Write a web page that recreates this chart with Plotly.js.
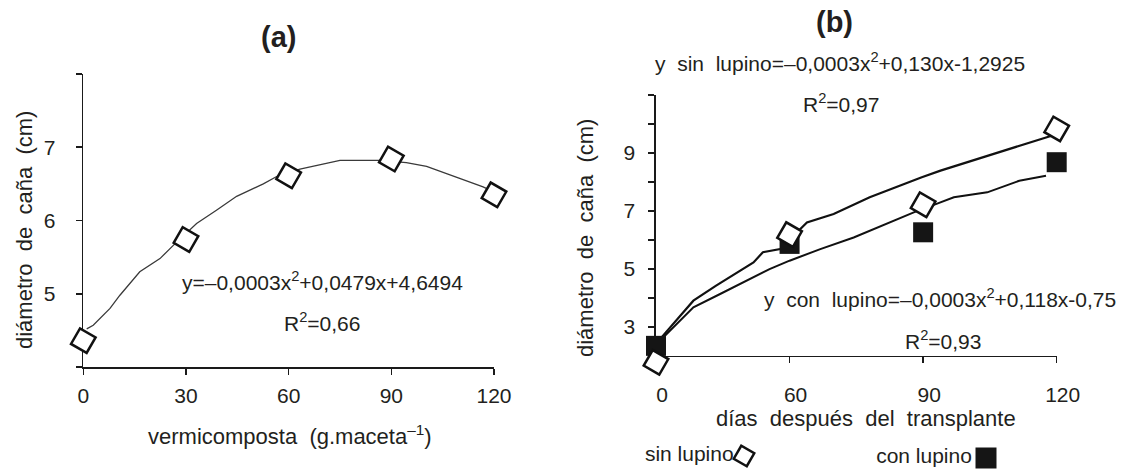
<!DOCTYPE html>
<html>
<head>
<meta charset="utf-8">
<script src="https://cdn.plot.ly/plotly-3.0.1.min.js"></script>
<style>html,body{margin:0;padding:0;background:#fff;}#chart{width:1135px;height:470px;}</style>
</head>
<body>
<div id="chart"></div>
<script>
// ---------- DATA ----------
// Panel (a): vermicomposta (g/maceta) vs diámetro de caña (cm)
const aDoses = [0, 30, 60, 90, 120];
const aDiam = [4.36, 5.74, 6.61, 6.84, 6.35];
// fitted curve as drawn in panel (a)
const aFitX = [1, 2.9, 7.8, 10.7, 16.5, 22.4, 26.3, 33.1, 38.9, 44.8, 52.6, 56.5, 63.3, 68.1, 75, 86.6, 94.4, 100.3, 110, 116.8, 119.5];
const aFitY = [4.52, 4.57, 4.80, 4.98, 5.30, 5.48, 5.66, 5.96, 6.14, 6.33, 6.50, 6.60, 6.70, 6.75, 6.82, 6.82, 6.79, 6.74, 6.58, 6.46, 6.40];
const aTickVals = [0, 30, 60, 90, 120];
const aYTickVals = [4, 5, 6, 7, 8];
const aYTickText = ['', '5', '6', '7', ''];

// Panel (b): días después del transplante (categories) vs diámetro
const bCategories = ['0', '60', '90', '120'];
const bPos = [0, 1, 2, 3];
const sinLupino = [1.77, 6.18, 7.21, 9.83];
const conLupino = [2.34, 5.86, 6.26, 8.68];
// fitted curves as drawn (x in category positions)
const sinFitX = [0.02, 0.28, 0.45, 0.55, 0.73, 0.80, 0.93, 1.13, 1.33, 1.60, 1.85, 1.99, 2.13, 2.37, 2.60, 2.87, 2.98];
const sinFitY = [2.52, 3.90, 4.42, 4.70, 5.22, 5.57, 5.68, 6.60, 6.89, 7.47, 7.93, 8.16, 8.39, 8.73, 9.08, 9.45, 9.62];
const conFitX = [0.005, 0.28, 0.48, 0.73, 0.85, 1.0, 1.23, 1.48, 1.73, 1.93, 2.10, 2.23, 2.48, 2.72, 2.92];
const conFitY = [2.40, 3.67, 4.13, 4.70, 4.99, 5.28, 5.68, 6.08, 6.55, 6.95, 7.24, 7.47, 7.64, 8.04, 8.21];
const bYTickVals = [2, 3, 4, 5, 6, 7, 8, 9, 10, 11];
const bYTickText = ['', '3', '', '5', '', '7', '', '9', '', ''];

const legendNames = ['sin lupino', 'con lupino'];

// ---------- LAYOUT HELPERS ----------
const W = 1135, H = 470;
const px = x => x / W;
const py = y => 1 - y / H;
const FONT = 'Liberation Sans, Arial, sans-serif';
const TXT = '#231f20';
const AX = '#1a1a1a';

const openMarker = (size) => ({symbol: 'square', angle: 30, size: size, color: '#ffffff', line: {color: '#111111', width: 2.5}});
const filledMarker = (size) => ({symbol: 'square', size: size, color: '#151515', line: {width: 0}});

const traces = [
  {x: aFitX, y: aFitY, xaxis: 'x', yaxis: 'y', mode: 'lines', line: {color: '#3a3a3a', width: 1.3}},
  {x: aDoses, y: aDiam, xaxis: 'x', yaxis: 'y', mode: 'markers', marker: openMarker(18), cliponaxis: false},
  {x: sinFitX, y: sinFitY, xaxis: 'x2', yaxis: 'y2', mode: 'lines', line: {color: '#111111', width: 2.2}},
  {x: conFitX, y: conFitY, xaxis: 'x2', yaxis: 'y2', mode: 'lines', line: {color: '#111111', width: 2.0}},
  {x: bPos, y: conLupino, xaxis: 'x2', yaxis: 'y2', mode: 'markers', marker: filledMarker(20), cliponaxis: false},
  {x: bPos, y: sinLupino, xaxis: 'x2', yaxis: 'y2', mode: 'markers', marker: openMarker(18), cliponaxis: false},
  // legend row
  {x: [744], y: [456], xaxis: 'x3', yaxis: 'y3', mode: 'markers+text', text: [legendNames[0]], textposition: 'middle left',
   textfont: {family: FONT, size: 21, color: TXT}, marker: openMarker(15), cliponaxis: false},
  {x: [986], y: [458], xaxis: 'x3', yaxis: 'y3', mode: 'markers+text', text: [legendNames[1]], textposition: 'middle left',
   textfont: {family: FONT, size: 21, color: TXT}, marker: filledMarker(21), cliponaxis: false}
];

const baseAxis = {showgrid: false, zeroline: false, showline: true, linecolor: AX, linewidth: 1.6,
  ticks: 'outside', ticklen: 6, tickwidth: 1.6, tickcolor: AX, layer: 'below traces',
  tickfont: {family: FONT, size: 21, color: TXT}, fixedrange: true};

// panel (b) y scale: bottom of range sits below the x axis so the day-0 marker is kept
const bAxisY = 355.7, bTopY = 95, bYmin = 1.6, bYmax = 11;
const bUnit = (bAxisY - bTopY) / (bYmax - 2);
const bBottomY = bAxisY + (2 - bYmin) * bUnit;

const layout = {
  width: W, height: H,
  margin: {l: 0, r: 0, t: 0, b: 0},
  paper_bgcolor: '#ffffff', plot_bgcolor: 'rgba(0,0,0,0)',
  showlegend: false,
  font: {family: FONT, color: TXT},
  xaxis: Object.assign({}, baseAxis, {domain: [px(83.3), px(494)], range: [0, 120], tickvals: aTickVals,
    anchor: 'y', ticklabelstandoff: 3}),
  yaxis: Object.assign({}, baseAxis, {domain: [py(367), py(74)], range: [4, 8], tickvals: aYTickVals, ticktext: aYTickText,
    anchor: 'x', ticklabelstandoff: 16}),
  xaxis2: Object.assign({}, baseAxis, {domain: [px(656), px(1056.7)], range: [0, 3], tickvals: bPos, ticktext: bCategories,
    anchor: 'free', position: py(bAxisY), ticklabelstandoff: 13, ticklabelshift: 6}),
  yaxis2: Object.assign({}, baseAxis, {domain: [py(bBottomY), py(bTopY)], range: [bYmin, bYmax], tickvals: bYTickVals, ticktext: bYTickText,
    anchor: 'x2', ticklabelstandoff: 9}),
  xaxis3: {domain: [0, 1], range: [0, W], visible: false, fixedrange: true},
  yaxis3: {domain: [0, 1], range: [H, 0], visible: false, fixedrange: true, anchor: 'x3'},
  annotations: [
    {text: '<b>(a)</b>', x: px(278), y: py(37), font: {size: 29}},
    {text: '<b>(b)</b>', x: px(834), y: py(22), font: {size: 29}},
    {text: 'y=–0,0003x<sup>2</sup>+0,0479x+4,6494', x: px(322), y: py(281), font: {size: 21}},
    {text: 'R<sup>2</sup>=0,66', x: px(322), y: py(322), font: {size: 21}},
    {text: 'y\u00a0 sin\u00a0 lupino=–0,0003x<sup>2</sup>+0,130x-1,2925', x: px(840), y: py(62), font: {size: 21}},
    {text: 'R<sup>2</sup>=0,97', x: px(841), y: py(103), font: {size: 21}},
    {text: 'y\u00a0 con\u00a0 lupino=–0,0003x<sup>2</sup>+0,118x-0,75', x: px(940), y: py(298), font: {size: 21}},
    {text: 'R<sup>2</sup>=0,93', x: px(943), y: py(340), font: {size: 21}},
    {text: 'vermicomposta\u00a0 (g.maceta<sup>–1</sup>)', x: px(290), y: py(435), font: {size: 22}},
    {text: 'diámetro\u00a0 de\u00a0 caña\u00a0 (cm)', x: px(25), y: py(230), textangle: -90, font: {size: 22}},
    {text: 'días\u00a0 después\u00a0 del\u00a0 transplante', x: px(866), y: py(418), font: {size: 22}},
    {text: 'diámetro\u00a0 de\u00a0 caña\u00a0 (cm)', x: px(586), y: py(238), textangle: -90, font: {size: 22}}
  ].map(a => Object.assign({xref: 'paper', yref: 'paper', showarrow: false, xanchor: 'center', yanchor: 'middle'}, a,
        {font: Object.assign({family: FONT, color: TXT}, a.font)}))
};

Plotly.newPlot('chart', traces, layout, {staticPlot: true, displayModeBar: false});
</script>
</body>
</html>
